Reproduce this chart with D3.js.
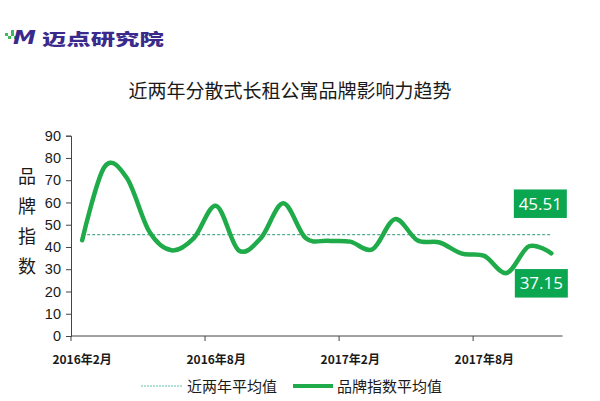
<!DOCTYPE html>
<html><head><meta charset="utf-8">
<script src="https://cdn.jsdelivr.net/npm/d3@7/dist/d3.min.js"></script>
<style>
html,body{margin:0;padding:0;background:#fff;}
svg{display:block;font-family:"Noto Sans CJK SC","Noto Sans",sans-serif;}
</style></head>
<body>
<svg id="chart" width="600" height="401"></svg>
<script>
const categories = ["2016年2月","2016年3月","2016年4月","2016年5月","2016年6月","2016年7月",
  "2016年8月","2016年9月","2016年10月","2016年11月","2016年12月","2017年1月",
  "2017年2月","2017年3月","2017年4月","2017年5月","2017年6月","2017年7月",
  "2017年8月","2017年9月","2017年10月","2017年11月"];
const brandIndex = [43,76,71,47,38.5,44,58.5,38.5,44,59.6,44,42.8,42.4,39,52.5,43,42,37,36,28.3,40.3,37.15];
const avgValues = [45.51,45.51,45.51,45.51,45.51,45.51,45.51,45.51,45.51,45.51,45.51,45.51,
  45.51,45.51,45.51,45.51,45.51,45.51,45.51,45.51,45.51,45.51];
const yTicks = [0,10,20,30,40,50,60,70,80,90];
const xTickLabels = ["2016年2月","2016年8月","2017年2月","2017年8月"];
const seriesNames = ["近两年平均值","品牌指数平均值"];
const titleText = "近两年分散式长租公寓品牌影响力趋势";
const yTitle = ["品","牌","指","数"];

const lineColor = "#1fab4a", boxColor = "#0aa650", avgColor = "#2a9a72";
const svg = d3.select("#chart");

const x = d3.scaleBand().domain(categories).range([71, 562.5]).padding(0);
const cx = c => x(c) + x.bandwidth()/2;
const y = d3.scaleLinear().domain([0, 90]).range([336, 135.7]);

// logo
const logo = svg.append("g");
[[5,33],[8,36],[11,33],[14,36],[11,30]].forEach(p=>{
  logo.append("rect").attr("x",p[0]).attr("y",p[1]).attr("width",3).attr("height",3).attr("fill","#3dbb5a");
});
logo.append("text").attr("transform","translate(13,44) scale(1.15,1)").attr("font-size",20).attr("font-weight","900")
  .attr("font-style","italic").attr("fill","#3a2a8c").attr("font-family","DejaVu Sans").text("M");
logo.append("text").attr("transform","translate(42,45) scale(1.25,0.82)").attr("font-size",19.5)
  .attr("font-weight","900").attr("fill","#3a2a8c").text("迈点研究院");

// title
svg.append("text").attr("x",290).attr("y",98).attr("text-anchor","middle")
  .attr("font-size",19).attr("fill","#1a1a1a").text(titleText);

// y title
yTitle.forEach((ch,i)=>{
  svg.append("text").attr("x",27).attr("y",183 + i*30).attr("text-anchor","middle")
    .attr("font-size",18).attr("fill","#1a1a1a").text(ch);
});

// y axis
const yAxis = svg.append("g").attr("transform","translate(71,0)")
  .call(d3.axisLeft(y).tickValues(yTicks).tickSize(5).tickPadding(5));
yAxis.select(".domain").attr("stroke","#444");
yAxis.selectAll(".tick line").attr("stroke","#444");
yAxis.selectAll("text").attr("font-size",14.5).attr("fill","#1a1a1a")
  .attr("font-family","'Liberation Sans',Arial,sans-serif");

// x axis
const xg = svg.append("g");
xg.append("line").attr("x1",71).attr("x2",562.5).attr("y1",y(0)).attr("y2",y(0)).attr("stroke","#444");
xTickLabels.forEach(lbl=>{
  const px = x(lbl);
  xg.append("line").attr("x1",px).attr("x2",px).attr("y1",y(0)).attr("y2",y(0)+5).attr("stroke","#444");
  xg.append("text").attr("x",cx(lbl)).attr("y",364).attr("text-anchor","middle")
    .attr("font-size",12).attr("font-weight","bold").attr("fill","#1a1a1a").text(lbl);
});

// average line
const avgLine = d3.line().x((d,i)=>cx(categories[i])).y(d=>y(d));
svg.append("path").datum(avgValues).attr("d",avgLine).attr("fill","none")
  .attr("stroke",avgColor).attr("stroke-width",1).attr("stroke-dasharray","3,2");

// brand line
const brandLine = d3.line().x((d,i)=>cx(categories[i])).y(d=>y(d)).curve(d3.curveCardinal.tension(0));
svg.append("path").datum(brandIndex).attr("d",brandLine).attr("fill","none")
  .attr("stroke",lineColor).attr("stroke-width",4.5).attr("stroke-linecap","round").attr("stroke-linejoin","round");

// labels
function labelBox(px, py, txt){
  const w = 53, h = 28.5;
  svg.append("rect").attr("x",px - w/2).attr("y",py - h/2).attr("width",w).attr("height",h).attr("fill",boxColor);
  svg.append("text").attr("x",px).attr("y",py+6).attr("text-anchor","middle").attr("font-size",17)
    .attr("fill","#fff").attr("font-family","'Open Sans','Noto Sans',sans-serif").text(txt);
}
const last = categories.length - 1;
labelBox(cx(categories[last]) - 11, y(avgValues[last]) - 31, avgValues[last].toFixed(2));
labelBox(cx(categories[last]) - 10, y(brandIndex[last]) + 30, brandIndex[last].toFixed(2));

// legend
const lg = svg.append("g");
lg.append("line").attr("x1",141).attr("x2",182).attr("y1",386).attr("y2",386)
  .attr("stroke","#5fc2a8").attr("stroke-width",1).attr("stroke-dasharray","2,1");
lg.append("text").attr("x",187).attr("y",392).attr("font-size",15).attr("fill","#1a1a1a").text(seriesNames[0]);
lg.append("line").attr("x1",293).attr("x2",333).attr("y1",386).attr("y2",386)
  .attr("stroke",lineColor).attr("stroke-width",4);
lg.append("text").attr("x",337).attr("y",392).attr("font-size",15).attr("fill","#1a1a1a").text(seriesNames[1]);
</script>
</body></html>
